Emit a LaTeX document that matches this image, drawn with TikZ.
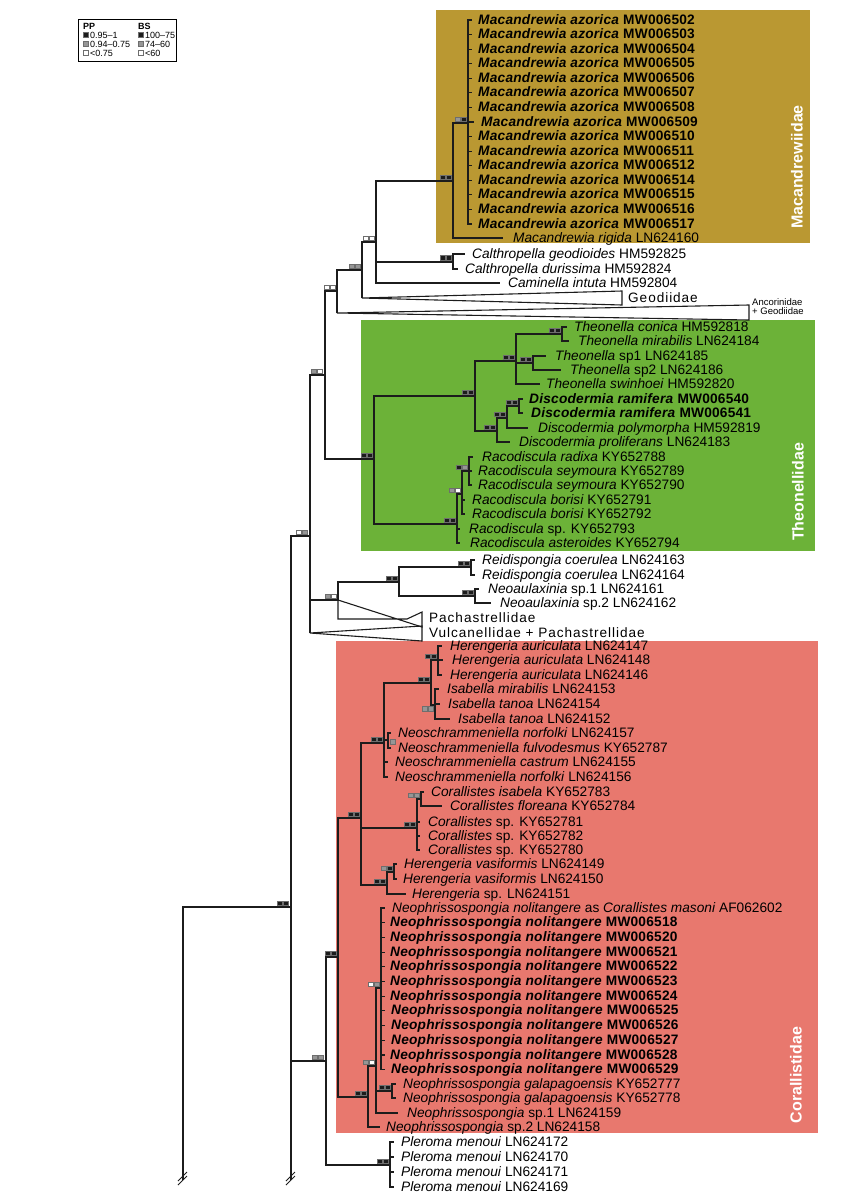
\documentclass[tikz,border=0pt]{standalone}
\usepackage{fontspec}
\setmainfont{Liberation Sans}
\usepackage{tikz}
\usetikzlibrary{positioning}
\definecolor{treeline}{RGB}{28,28,28}
\definecolor{macgold}{RGB}{186,152,50}
\definecolor{theogreen}{RGB}{108,178,56}
\definecolor{corred}{RGB}{232,120,110}
\definecolor{sqdark}{RGB}{28,28,28}
\definecolor{sqgrey}{RGB}{150,150,150}
\definecolor{sqedge}{RGB}{110,110,110}

% support squares: right end x, base y, PP fill, BS fill
\newcommand{\supsq}[4]{%
  \filldraw[sqbox,fill=#3] (#1-11.5,#2-4.5) rectangle ++(5,4.5);
  \filldraw[sqbox,fill=#4] (#1-5.5,#2-4.5) rectangle ++(5,4.5);}
% tip: name, branch end x, text x, y, text
\newcommand{\tipnode}[5]{%
  \coordinate (#1) at (#2,#4);
  \node[leaf] (#1-lab) at (#3,#4) {#5};}
\newcommand{\sn}[1]{\textit{#1}}
\newcommand{\bsn}[2]{{\addfontfeatures{LetterSpace=1.6}\textbf{\textit{#1} #2}}}

\begin{document}
\begin{tikzpicture}[x=1pt,y=-1pt,
    br/.style={draw=treeline, line width=1.1pt},
    leaf/.style={anchor=west, inner sep=0pt, text height=8pt, text depth=0pt,
      font=\fontsize{13.7}{15}\selectfont},
    famlab/.style={leaf, font=\fontsize{13.6}{15}\selectfont\addfontfeatures{LetterSpace=7}},
    clade/.style={rotate=90, text=white, inner sep=0pt, font=\fontsize{16}{18}\selectfont\bfseries},
    sqbox/.style={draw=sqedge, line width=0.35pt},
    legtxt/.style={anchor=west, inner sep=0pt, text height=6pt, text depth=0pt, font=\fontsize{9}{10}\selectfont},
  ]
  \useasboundingbox (0,0) rectangle (848,1200);

  % clade boxes
  \fill[macgold] (436,10) rectangle (810,243);
  \fill[theogreen] (361,320) rectangle (815,551);
  \fill[corred] (336,641) rectangle (818,1133);
  \node[clade] (macname) at (797,167) {Macandrewiidae};
  \node[clade] (theoname) at (798,492) {Theonellidae};
  \node[clade] (corname) at (796,1075) {Corallistidae};

  % legend
  \draw[line width=0.5pt] (78,19) rectangle (176,61);
  \node[legtxt, font=\fontsize{9}{10}\selectfont\bfseries] (pphead) at (83,26) {PP};
  \node[legtxt, font=\fontsize{9}{10}\selectfont\bfseries] (bshead) at (138,26) {BS};
  \filldraw[sqbox, fill=sqdark] (83,32.5) rectangle ++(5,5);
  \filldraw[sqbox, fill=sqgrey] (83,41.5) rectangle ++(5,5);
  \filldraw[sqbox, fill=white] (83,50.5) rectangle ++(5,5);
  \filldraw[sqbox, fill=sqdark] (138,32.5) rectangle ++(5,5);
  \filldraw[sqbox, fill=sqgrey] (138,41.5) rectangle ++(5,5);
  \filldraw[sqbox, fill=white] (138,50.5) rectangle ++(5,5);
  \node[legtxt] (pp1) at (90,35) {0.95–1};
  \node[legtxt] (pp2) at (90,44) {0.94–0.75};
  \node[legtxt] (pp3) at (90,53) {<0.75};
  \node[legtxt] (bs1) at (145,35) {100–75};
  \node[legtxt] (bs2) at (145,44) {74–60};
  \node[legtxt] (bs3) at (145,53) {<60};

  % internal nodes
  \coordinate (brkA) at (183,1180);
  \coordinate (n0) at (291,907);
  \coordinate (brkB) at (291,1180);
  \coordinate (upper) at (310,536);
  \coordinate (astro) at (325,375);
  \coordinate (geoA) at (337,291);
  \coordinate (geoB) at (362,270);
  \coordinate (geoC) at (376,242);
  \coordinate (macs) at (453,181);
  \coordinate (azor) at (468,123);
  \coordinate (calth) at (453,262);
  \coordinate (geoT) at (362,298);
  \coordinate (ancT) at (337,313);
  \coordinate (theo) at (374,459);
  \coordinate (theoU) at (475,396);
  \coordinate (theoN) at (516,361);
  \coordinate (theoCM) at (562,334);
  \coordinate (theoSP) at (533,363);
  \coordinate (disc1) at (497,431);
  \coordinate (disc2) at (507,418);
  \coordinate (disc3) at (519,406);
  \coordinate (raco) at (457,524);
  \coordinate (racoB) at (462,494);
  \coordinate (racoS) at (469,471);
  \coordinate (reneo) at (338,600);
  \coordinate (reneoA) at (399,582);
  \coordinate (reid) at (471,567);
  \coordinate (neoa) at (475,596);
  \coordinate (pachT) at (407,619);
  \coordinate (vulcT) at (310,633);
  \coordinate (coral0) at (326,1061);
  \coordinate (coral1) at (338,957);
  \coordinate (coral2) at (361,818);
  \coordinate (coral3) at (384,743);
  \coordinate (herI) at (431,683);
  \coordinate (herA) at (438,660);
  \coordinate (isab) at (435,705);
  \coordinate (neos) at (388,740);
  \coordinate (cor) at (417,828);
  \coordinate (corI) at (421,799);
  \coordinate (herV) at (387,885);
  \coordinate (herV2) at (394,872);
  \coordinate (neoph) at (368,1097);
  \coordinate (neoph2) at (376,1066);
  \coordinate (nolit) at (381,988);
  \coordinate (galap) at (392,1091);
  \coordinate (plero) at (390,1165);

  % tips: Macandrewiidae and relatives
  \tipnode{az1}{472}{478}{20}{\bsn{Macandrewia azorica}{MW006502}}
  \tipnode{az2}{472}{478}{34.6}{\bsn{Macandrewia azorica}{MW006503}}
  \tipnode{az3}{472}{478}{49.1}{\bsn{Macandrewia azorica}{MW006504}}
  \tipnode{az4}{472}{478}{63.7}{\bsn{Macandrewia azorica}{MW006505}}
  \tipnode{az5}{472}{478}{78.3}{\bsn{Macandrewia azorica}{MW006506}}
  \tipnode{az6}{472}{478}{92.9}{\bsn{Macandrewia azorica}{MW006507}}
  \tipnode{az7}{472}{478}{107.4}{\bsn{Macandrewia azorica}{MW006508}}
  \tipnode{az8}{474}{481}{122}{\bsn{Macandrewia azorica}{MW006509}}
  \tipnode{az9}{472}{478}{136.6}{\bsn{Macandrewia azorica}{MW006510}}
  \tipnode{az10}{472}{478}{151.1}{\bsn{Macandrewia azorica}{MW006511}}
  \tipnode{az11}{472}{478}{165.7}{\bsn{Macandrewia azorica}{MW006512}}
  \tipnode{az12}{472}{478}{180.3}{\bsn{Macandrewia azorica}{MW006514}}
  \tipnode{az13}{472}{478}{194.8}{\bsn{Macandrewia azorica}{MW006515}}
  \tipnode{az14}{472}{478}{209.4}{\bsn{Macandrewia azorica}{MW006516}}
  \tipnode{az15}{472}{478}{224}{\bsn{Macandrewia azorica}{MW006517}}
  \tipnode{mrig}{503}{513}{238}{\sn{Macandrewia rigida} LN624160}
  \tipnode{cgeo}{465}{472}{254}{\sn{Calthropella geodioides} HM592825}
  \tipnode{cdur}{458}{465}{269}{\sn{Calthropella durissima} HM592824}
  \tipnode{cint}{500}{508}{283}{\sn{Caminella intuta} HM592804}
  \node[famlab] (geolab) at (628,298) {Geodiidae};
  \node[leaf, font=\fontsize{9.5}{10}\selectfont, text height=6pt] (anclab) at (752,302) {Ancorinidae};
  \node[leaf, font=\fontsize{9.5}{10}\selectfont, text height=6pt] (anclab2) at (752,311) {+ Geodiidae};

  % tips: Theonellidae
  \tipnode{tcon}{567}{574}{327}{\sn{Theonella conica} HM592818}
  \tipnode{tmir}{569}{578}{341}{\sn{Theonella mirabilis} LN624184}
  \tipnode{tsp1}{546}{555}{356}{\sn{Theonella} sp1 LN624185}
  \tipnode{tsp2}{561}{570}{370}{\sn{Theonella} sp2 LN624186}
  \tipnode{tswi}{540}{546}{384}{\sn{Theonella swinhoei} HM592820}
  \tipnode{dra1}{523}{529}{399}{\bsn{Discodermia ramifera}{MW006540}}
  \tipnode{dra2}{523}{531}{413}{\bsn{Discodermia ramifera}{MW006541}}
  \tipnode{dpol}{528}{538}{428}{\sn{Discodermia polymorpha} HM592819}
  \tipnode{dpro}{510}{519}{442}{\sn{Discodermia proliferans} LN624183}
  \tipnode{rrad}{473}{482}{457}{\sn{Racodiscula radixa} KY652788}
  \tipnode{rse1}{472}{478}{471}{\sn{Racodiscula seymoura} KY652789}
  \tipnode{rse2}{472}{478}{485}{\sn{Racodiscula seymoura} KY652790}
  \tipnode{rbo1}{465}{472}{500}{\sn{Racodiscula borisi} KY652791}
  \tipnode{rbo2}{465}{472}{514}{\sn{Racodiscula borisi} KY652792}
  \tipnode{rsp}{460}{469}{529}{\sn{Racodiscula} sp. KY652793}
  \tipnode{rast}{460}{470}{543}{\sn{Racodiscula asteroides} KY652794}

  % tips: Reidispongia, Neoaulaxinia, collapsed families
  \tipnode{rco1}{475}{482}{560}{\sn{Reidispongia coerulea} LN624163}
  \tipnode{rco2}{475}{482}{575}{\sn{Reidispongia coerulea} LN624164}
  \tipnode{nax1}{479}{488}{589}{\sn{Neoaulaxinia} sp.1 LN624161}
  \tipnode{nax2}{491}{500}{603}{\sn{Neoaulaxinia} sp.2 LN624162}
  \node[famlab] (pachlab) at (429,618) {Pachastrellidae};
  \node[famlab] (vulclab) at (429,633) {Vulcanellidae + Pachastrellidae};

  % tips: Corallistidae
  \tipnode{ha47}{442}{450}{646}{\sn{Herengeria auriculata} LN624147}
  \tipnode{ha48}{443}{452}{660}{\sn{Herengeria auriculata} LN624148}
  \tipnode{ha46}{442}{450}{675}{\sn{Herengeria auriculata} LN624146}
  \tipnode{imir}{439}{447}{689}{\sn{Isabella mirabilis} LN624153}
  \tipnode{ita54}{440}{448}{704}{\sn{Isabella tanoa} LN624154}
  \tipnode{ita52}{450}{458}{719}{\sn{Isabella tanoa} LN624152}
  \tipnode{nno57}{391}{398}{733}{\sn{Neoschrammeniella norfolki} LN624157}
  \tipnode{nful}{391}{398}{748}{\sn{Neoschrammeniella fulvodesmus} KY652787}
  \tipnode{ncas}{388}{395}{762}{\sn{Neoschrammeniella castrum} LN624155}
  \tipnode{nno56}{388}{395}{777}{\sn{Neoschrammeniella norfolki} LN624156}
  \tipnode{cisa}{424}{431}{792}{\sn{Corallistes isabela} KY652783}
  \tipnode{cflo}{442}{450}{806}{\sn{Corallistes floreana} KY652784}
  \tipnode{csp81}{420}{428}{822}{\sn{Corallistes} sp. KY652781}
  \tipnode{csp82}{420}{428}{836}{\sn{Corallistes} sp. KY652782}
  \tipnode{csp80}{420}{428}{850}{\sn{Corallistes} sp. KY652780}
  \tipnode{hv49}{397}{404}{864}{\sn{Herengeria vasiformis} LN624149}
  \tipnode{hv50}{397}{403}{879}{\sn{Herengeria vasiformis} LN624150}
  \tipnode{hsp}{406}{412}{894}{\sn{Herengeria} sp. LN624151}
  \tipnode{nl0}{385}{392}{908}{\sn{Neophrissospongia nolitangere} as \sn{Corallistes masoni} AF062602}
  \tipnode{nl1}{385}{390}{922.7}{\bsn{Neophrissospongia nolitangere}{MW006518}}
  \tipnode{nl2}{385}{390}{937.4}{\bsn{Neophrissospongia nolitangere}{MW006520}}
  \tipnode{nl3}{385}{390}{952.1}{\bsn{Neophrissospongia nolitangere}{MW006521}}
  \tipnode{nl4}{385}{390}{966.8}{\bsn{Neophrissospongia nolitangere}{MW006522}}
  \tipnode{nl5}{385}{390}{981.5}{\bsn{Neophrissospongia nolitangere}{MW006523}}
  \tipnode{nl6}{385}{390}{996.2}{\bsn{Neophrissospongia nolitangere}{MW006524}}
  \tipnode{nl7}{385}{391}{1010.9}{\bsn{Neophrissospongia nolitangere}{MW006525}}
  \tipnode{nl8}{385}{391}{1025.6}{\bsn{Neophrissospongia nolitangere}{MW006526}}
  \tipnode{nl9}{385}{391}{1040.3}{\bsn{Neophrissospongia nolitangere}{MW006527}}
  \tipnode{nl10}{385}{390}{1055}{\bsn{Neophrissospongia nolitangere}{MW006528}}
  \tipnode{nl11}{385}{391}{1069.7}{\bsn{Neophrissospongia nolitangere}{MW006529}}
  \tipnode{ng77}{396}{403}{1084}{\sn{Neophrissospongia galapagoensis} KY652777}
  \tipnode{ng78}{396}{403}{1098}{\sn{Neophrissospongia galapagoensis} KY652778}
  \tipnode{nsp1}{398}{407}{1113}{\sn{Neophrissospongia} sp.1 LN624159}
  \tipnode{nsp2}{380}{386}{1127}{\sn{Neophrissospongia} sp.2 LN624158}
  \tipnode{pm72}{394}{401}{1142}{\sn{Pleroma menoui} LN624172}
  \tipnode{pm70}{394}{401}{1157}{\sn{Pleroma menoui} LN624170}
  \tipnode{pm71}{394}{401}{1172}{\sn{Pleroma menoui} LN624171}
  \tipnode{pm69}{394}{401}{1187}{\sn{Pleroma menoui} LN624169}

  % backbone
  \draw[br] (brkA) |- (n0) (n0) -- (brkB);
  \draw[br] (n0) |- (upper) (n0) |- (coral0);
  \draw[br] (upper) |- (astro) (upper) |- (reneo) (upper) -- (vulcT);
  \draw[br] (astro) |- (geoA) (astro) |- (theo);
  \draw[br] (geoA) |- (geoB) (geoA) -- (ancT);
  \draw[br] (geoB) |- (geoC) (geoB) -- (geoT);
  \draw[br] (geoC) |- (macs) (geoC) |- (calth) (geoC) |- (cint);
  \draw[br] (macs) |- (azor) (macs) |- (mrig);
  \draw[br] (azor) |- (az1) (azor) |- (az2) (azor) |- (az3) (azor) |- (az4)
    (azor) |- (az5) (azor) |- (az6) (azor) |- (az7) (azor) |- (az8)
    (azor) |- (az9) (azor) |- (az10) (azor) |- (az11) (azor) |- (az12)
    (azor) |- (az13) (azor) |- (az14) (azor) |- (az15);
  \draw[br] (calth) |- (cgeo) (calth) |- (cdur);
  % collapsed clades
  \draw[br] (geoT) -- ++(260,-7) -- ++(0,14) -- cycle;
  \draw[br] (ancT) -- ++(412,-8) -- ++(0,15) -- cycle;
  \draw[br] (reneo) |- (pachT) -- ++(15,-7) -- ++(0,15) -- cycle;
  \draw[br] (vulcT) -- ++(112,-7) -- ++(0,15) -- cycle;
  % Theonellidae
  \draw[br] (theo) |- (theoU) (theo) |- (raco);
  \draw[br] (theoU) |- (theoN) (theoU) |- (disc1);
  \draw[br] (theoN) |- (theoCM) (theoN) |- (theoSP) (theoN) |- (tswi);
  \draw[br] (theoCM) |- (tcon) (theoCM) |- (tmir);
  \draw[br] (theoSP) |- (tsp1) (theoSP) |- (tsp2);
  \draw[br] (disc1) |- (disc2) (disc1) |- (dpro);
  \draw[br] (disc2) |- (disc3) (disc2) |- (dpol);
  \draw[br] (disc3) |- (dra1) (disc3) |- (dra2);
  \draw[br] (raco) |- (racoB) (raco) |- (rsp) (raco) |- (rast);
  \draw[br] (racoB) |- (racoS) (racoB) |- (rbo1) (racoB) |- (rbo2);
  \draw[br] (racoS) |- (rrad) (racoS) |- (rse1) (racoS) |- (rse2);
  \draw[br] (reneo) |- (reneoA);
  \draw[br] (reneoA) |- (reid) (reneoA) |- (neoa);
  \draw[br] (reid) |- (rco1) (reid) |- (rco2);
  \draw[br] (neoa) |- (nax1) (neoa) |- (nax2);
  % Corallistidae
  \draw[br] (coral0) |- (coral1) (coral0) |- (plero);
  \draw[br] (coral1) |- (coral2) (coral1) |- (neoph);
  \draw[br] (coral2) |- (coral3) (coral2) |- (cor) (coral2) |- (herV);
  \draw[br] (coral3) |- (herI) (coral3) |- (neos) (coral3) |- (ncas) (coral3) |- (nno56);
  \draw[br] (herI) |- (herA) (herI) |- (isab);
  \draw[br] (herA) |- (ha47) (herA) |- (ha48) (herA) |- (ha46);
  \draw[br] (isab) |- (imir) (isab) |- (ita54) (isab) |- (ita52);
  \draw[br] (neos) |- (nno57) (neos) |- (nful);
  \draw[br] (cor) |- (corI) (cor) |- (csp81) (cor) |- (csp82) (cor) |- (csp80);
  \draw[br] (corI) |- (cisa) (corI) |- (cflo);
  \draw[br] (herV) |- (herV2) (herV) |- (hsp);
  \draw[br] (herV2) |- (hv49) (herV2) |- (hv50);
  \draw[br] (neoph) |- (neoph2) (neoph) |- (nsp2);
  \draw[br] (neoph2) |- (nolit) (neoph2) |- (galap) (neoph2) |- (nsp1);
  \draw[br] (nolit) |- (nl0) (nolit) |- (nl1) (nolit) |- (nl2) (nolit) |- (nl3)
    (nolit) |- (nl4) (nolit) |- (nl5) (nolit) |- (nl6) (nolit) |- (nl7)
    (nolit) |- (nl8) (nolit) |- (nl9) (nolit) |- (nl10) (nolit) |- (nl11);
  \draw[br] (galap) |- (ng77) (galap) |- (ng78);
  \draw[br] (plero) |- (pm72) (plero) |- (pm70) (plero) |- (pm71) (plero) |- (pm69);
  % breaks
  \draw[br, line width=0.8pt] (brkA) ++(-5,1) -- ++(9,-9) (brkA) ++(-5,5) -- ++(9,-9);
  \draw[br, line width=0.8pt] (brkB) ++(-5,1) -- ++(9,-9) (brkB) ++(-5,5) -- ++(9,-9);

  % support values
  \supsq{289}{905.5}{sqdark}{sqdark}
  \supsq{308}{534.5}{white}{sqgrey}
  \supsq{323}{373.5}{sqgrey}{white}
  \supsq{335.5}{289.5}{white}{white}
  \supsq{360.5}{268.5}{sqgrey}{sqgrey}
  \supsq{374.5}{240.5}{white}{white}
  \supsq{451.5}{179.5}{sqdark}{sqdark}
  \supsq{466.5}{121.5}{sqgrey}{sqdark}
  \supsq{451.5}{260}{sqdark}{sqdark}
  \supsq{372.5}{457.5}{sqdark}{sqdark}
  \supsq{473.5}{394.5}{sqdark}{sqdark}
  \supsq{514.5}{359.5}{sqdark}{sqdark}
  \supsq{560.5}{332.5}{sqdark}{sqdark}
  \supsq{531.5}{361.5}{sqdark}{sqdark}
  \supsq{495.5}{429.5}{sqdark}{sqdark}
  \supsq{505.5}{416.5}{sqdark}{sqdark}
  \supsq{517.5}{404.5}{sqdark}{sqdark}
  \supsq{455.5}{522.5}{sqdark}{sqdark}
  \supsq{460.5}{492.5}{sqgrey}{white}
  \supsq{467.5}{469.5}{sqdark}{sqgrey}
  \supsq{336.5}{598.5}{sqgrey}{white}
  \supsq{397.5}{580.5}{sqdark}{sqdark}
  \supsq{469.5}{565.5}{sqdark}{sqdark}
  \supsq{473.5}{594.5}{sqdark}{sqdark}
  \supsq{324}{1059.5}{sqgrey}{sqgrey}
  \supsq{336.5}{955.5}{sqdark}{sqdark}
  \supsq{359.5}{816.5}{sqdark}{sqdark}
  \supsq{382.5}{741.5}{sqdark}{sqdark}
  \supsq{429.5}{681.5}{sqdark}{sqdark}
  \supsq{436.5}{658.5}{sqdark}{sqdark}
  \supsq{433.5}{711}{sqgrey}{sqgrey}
  \filldraw[sqbox, fill=sqgrey] (390,739) rectangle ++(5,5);
  \supsq{415.5}{826.5}{sqdark}{sqdark}
  \supsq{419.5}{797.5}{sqgrey}{sqgrey}
  \supsq{385.5}{883.5}{sqdark}{sqdark}
  \supsq{392.5}{870.5}{sqgrey}{sqdark}
  \supsq{366.5}{1095.5}{sqdark}{sqdark}
  \supsq{374.5}{1064.5}{sqgrey}{white}
  \supsq{379.5}{986.5}{white}{sqgrey}
  \supsq{390.5}{1089.5}{sqdark}{sqdark}
  \supsq{388.5}{1163.5}{sqdark}{sqdark}
\end{tikzpicture}
\end{document}
